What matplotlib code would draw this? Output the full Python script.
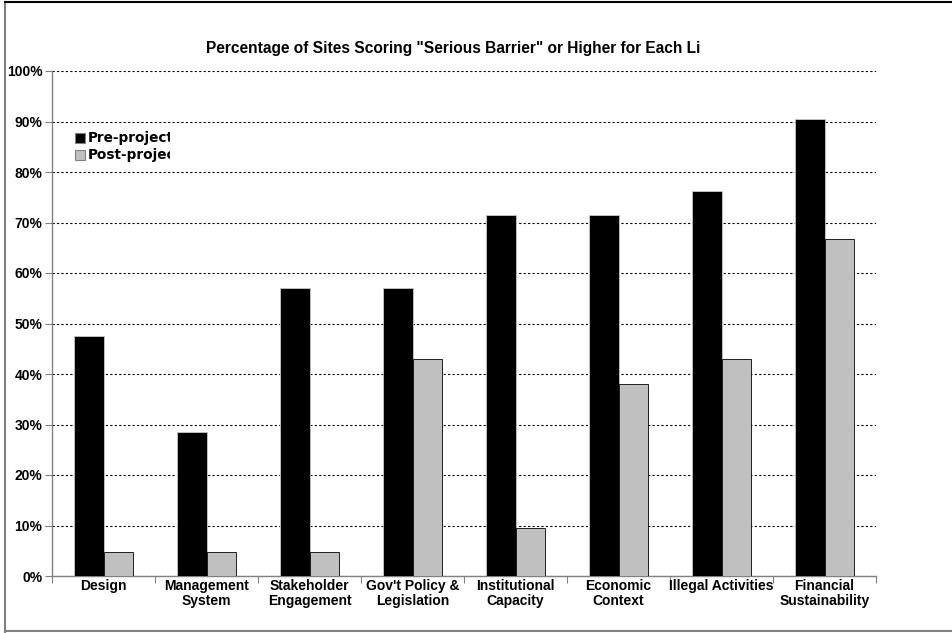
import matplotlib
matplotlib.use("Agg")
import matplotlib.pyplot as plt
import numpy as np
from matplotlib.transforms import Bbox

categories = ["Design", "Management\nSystem", "Stakeholder\nEngagement", "Gov't Policy &\nLegislation",
              "Institutional\nCapacity", "Economic\nContext", "Illegal Activities", "Financial\nSustainability"]
pre_project = [47.6, 28.6, 57.1, 57.1, 71.4, 71.4, 76.2, 90.5]
post_project = [4.8, 4.8, 4.8, 42.9, 9.5, 38.1, 42.9, 66.7]
yticks = list(range(0, 101, 10))
ytick_labels = [f"{v}%" for v in yticks]
title = 'Percentage of Sites Scoring "Serious Barrier" or Higher for Each Li'
legend_labels = ["Pre-project", "Post-project"]

W, H = 953, 633
fig = plt.figure(figsize=(W / 100, H / 100), dpi=100)
fig.patch.set_facecolor("white")

ax = fig.add_axes([52 / W, (H - 576) / H, (876 - 52) / W, (576 - 71) / H])
x = np.arange(len(categories))
bw = 0.29
ax.bar(x - bw / 2, pre_project, width=bw, color="black", edgecolor="#c8c8c8", linewidth=0.6, zorder=3)
ax.bar(x + bw / 2, post_project, width=bw, color="#c0c0c0", edgecolor="black", linewidth=0.6, zorder=3)

ax.set_xlim(-0.5, len(categories) - 0.5)
ax.set_ylim(0, 100)
ax.set_yticks(yticks)
ax.set_yticklabels(ytick_labels, fontfamily="Liberation Sans", fontweight="bold", fontsize=10)
ax.yaxis.grid(True, linestyle=(0, (2, 2)), color="black", linewidth=0.8, zorder=0)
ax.set_axisbelow(True)

ax.set_xticks(np.arange(len(categories) + 1) - 0.5)
ax.set_xticklabels([])
ax.set_xticks(x, minor=True)
ax.set_xticklabels(categories, minor=True, fontfamily="Liberation Sans", fontweight="bold", fontsize=10,
                   linespacing=1.15)
ax.tick_params(axis="x", which="minor", length=0, pad=2)
ax.tick_params(axis="x", which="major", length=5, color="#808080", direction="out")
ax.tick_params(axis="y", length=5, color="#808080", direction="out", pad=2)

for s in ["top", "right"]:
    ax.spines[s].set_visible(False)
for s in ["left", "bottom"]:
    ax.spines[s].set_color("#808080")
    ax.spines[s].set_linewidth(1.0)

# Title (clipped like the reference)
t = fig.text(206 / W, (H - 48) / H, title, ha="left", va="center",
             fontfamily="Liberation Sans", fontweight="bold", fontsize=11.2)
t.set_clip_box(Bbox.from_extents(0, 0, 702, H))
t.set_clip_on(True)

# Legend (clipped)
clip = Bbox.from_extents(0, 0, 170, H)
for i, (lab, col) in enumerate(zip(legend_labels, ["black", "#c0c0c0"])):
    y0 = H - 143 - i * 17
    fig.patches.append(plt.Rectangle((75 / W, y0 / H), 10 / W, 10 / H, transform=fig.transFigure,
                                     facecolor=col, edgecolor="#808080", linewidth=0.8))
    tx = fig.text(88 / W, (y0 + 5) / H, lab, ha="left", va="center",
                  fontfamily="DejaVu Sans", fontweight="bold", fontsize=9.8)
    tx.set_clip_box(clip)
    tx.set_clip_on(True)

# Frame
fig.add_artist(plt.Line2D([4.5 / W, 4.5 / W], [1.5 / H, (H - 2) / H], transform=fig.transFigure, color="#808080", linewidth=1.5))
fig.add_artist(plt.Line2D([4.5 / W, 1], [(H - 2) / H, (H - 2) / H], transform=fig.transFigure, color="black", linewidth=1.5))
fig.add_artist(plt.Line2D([4.5 / W, 1], [2 / H, 2 / H], transform=fig.transFigure, color="#808080", linewidth=1.5))

fig.savefig("out.png", dpi=100)
